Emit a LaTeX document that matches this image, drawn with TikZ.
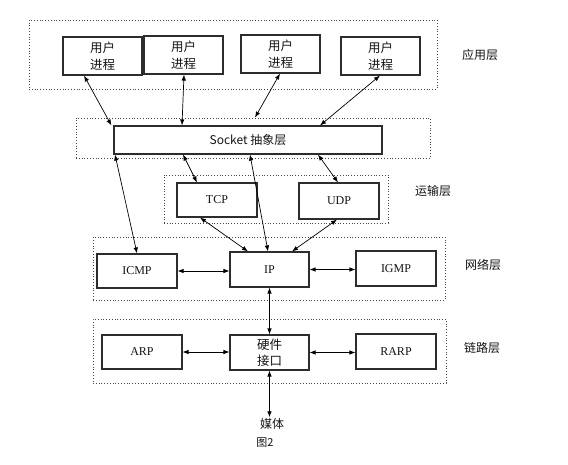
\documentclass[tikz,border=0pt]{standalone}
\usepackage{fontspec}
\setmainfont{Liberation Serif}
\newfontfamily\cjk{Noto Sans CJK SC}
\usetikzlibrary{arrows.meta}
\definecolor{bline}{RGB}{ 45, 45, 45}
\definecolor{lline}{RGB}{ 70, 70, 70}
\definecolor{tcol} {RGB}{ 20, 20, 20}
\tikzset{
  BX/.style={draw=bline, line width=1.1pt, inner sep=0pt, text=tcol,
             font=\fontsize{12}{14}\selectfont},
  CX/.style={BX, font=\cjk\fontsize{12.5}{17}\selectfont, align=center},
  LY/.style={draw=lline, line width=0.8pt, dotted, inner sep=0pt},
  LB/.style={text=tcol, font=\cjk\fontsize{12}{14}\selectfont, inner sep=1pt},
  AR/.style={{Latex[length=6pt,width=4.5pt]}-{Latex[length=6pt,width=4.5pt]},
             line width=0.7pt, black},
}

\begin{document}
\begin{tikzpicture}[x=1pt, y=-1pt]
\useasboundingbox (0,0) rectangle (568,464);

%% ================================================================
%%  LAYER FRAMES
%% ================================================================
\node[LY, minimum width=408pt, minimum height=69pt] (appL)   at (233,54.5)  {};
\node[LY, minimum width=354pt, minimum height=40pt] (sockL)  at (253,138)   {};
\node[LY, minimum width=224pt, minimum height=48pt] (transL) at (276,199)   {};
\node[LY, minimum width=352pt, minimum height=63pt] (netL)   at (269,268.5) {};
\node[LY, minimum width=353pt, minimum height=64pt] (linkL)  at (269.5,351) {};

\node[LB] (appT)   at (480,55)  {应用层};
\node[LB] (transT) at (433,191) {运输层};
\node[LB] (netT)   at (483,265) {网络层};
\node[LB] (linkT)  at (482,348) {链路层};

%% ================================================================
%%  BOXES
%% ================================================================
% user processes
\node[CX, minimum width=79pt, minimum height=38pt] (u1) at (102.5,56) {用户\\进程};
\node[CX, minimum width=79pt, minimum height=38pt] (u2) at (183.5,55) {用户\\进程};
\node[CX, minimum width=79pt, minimum height=38pt] (u3) at (280.5,54) {用户\\进程};
\node[CX, minimum width=79pt, minimum height=38pt] (u4) at (380.5,56) {用户\\进程};

% socket
\node[BX, font=\cjk\fontsize{12}{14}\selectfont,
      minimum width=268pt, minimum height=28pt] (sock) at (248,140) {Socket 抽象层};

% transport
\node[BX, minimum width=80pt, minimum height=34pt] (tcp) at (217,200) {TCP};
\node[BX, minimum width=80pt, minimum height=36pt] (udp) at (339,201) {UDP};

% network
\node[BX, minimum width=80pt, minimum height=34pt] (icmp) at (137,271)     {ICMP};
\node[BX, minimum width=79pt, minimum height=35pt] (ip)   at (269.5,269.5) {IP};
\node[BX, minimum width=80pt, minimum height=35pt] (igmp) at (396,268.5)   {IGMP};

% link
\node[BX, minimum width=80pt, minimum height=34pt] (arp)  at (142,352)     {ARP};
\node[CX, minimum width=79pt, minimum height=35pt, font=\cjk\fontsize{12.5}{16}\selectfont]
      (hw) at (269.5,352.5) {硬件\\接口};
\node[BX, minimum width=80pt, minimum height=35pt] (rarp) at (396,351.5)   {RARP};

\node[LB] (media) at (272,424) {媒体};
\node[LB, font=\cjk\fontsize{11}{13}\selectfont] (fig) at (265,443) {图2};

%% ================================================================
%%  CONNECTORS
%% ================================================================
% application <-> socket
\draw[AR] ([xshift=-18.5pt]u1.south) -- ([xshift=-2pt]sock.north west);
\draw[AR] ([xshift=0.5pt]u2.south)   -- ([xshift=-66pt]sock.north);
\draw[AR] ([xshift=-0.5pt]u3.south)  -- ([xshift=2pt]sockL.north);
\draw[AR] ([xshift=-0.5pt]u4.south)  -- ([xshift=72pt]sock.north);

% socket <-> lower layers
\draw[AR] ([xshift=-133pt]sock.south) -- (icmp.north);
\draw[AR] ([xshift=-65pt]sock.south)  -- ([xshift=-20pt]tcp.north);
\draw[AR] ([xshift=2pt]sock.south)    -- ([xshift=-1.5pt]ip.north);
\draw[AR] ([xshift=70pt]sock.south)   -- ([xshift=-1pt]udp.north);

% transport <-> IP
\draw[AR] ([xshift=-17pt]tcp.south) -- ([xshift=-21.5pt]ip.north);
\draw[AR] ([xshift=-2pt]udp.south)  -- ([xshift=22.5pt]ip.north);

% network
\draw[AR] (icmp.east) -- (icmp.east -| ip.west);
\draw[AR] (ip.east)   -- (ip.east -| igmp.west);
\draw[AR] (ip.south)  -- (hw.north);

% link
\draw[AR] (arp.east) -- (arp.east -| hw.west);
\draw[AR] (hw.east)  -- (hw.east -| rarp.west);
\draw[AR] (hw.south) -- (hw.south |- media.north);

\end{tikzpicture}
\end{document}
